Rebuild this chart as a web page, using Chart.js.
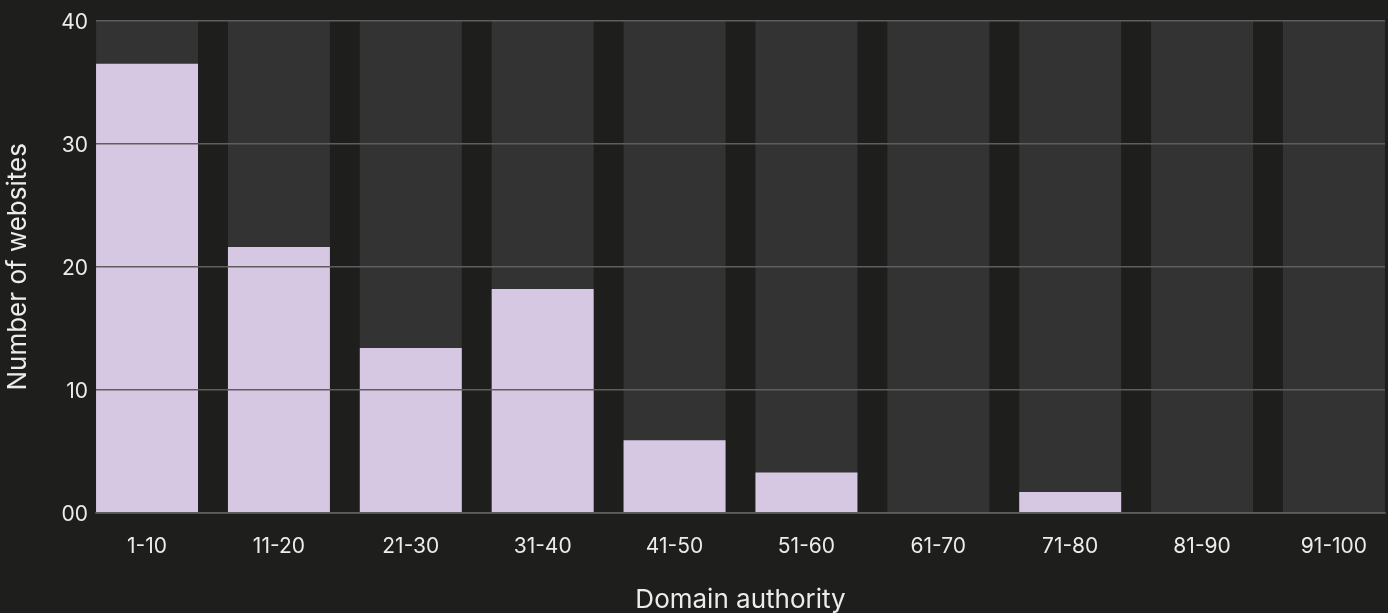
<!DOCTYPE html>
<html>
<head>
<meta charset="utf-8">
<script src="https://cdn.jsdelivr.net/npm/chart.js@4/dist/chart.umd.min.js"></script>
<style>
  html, body { margin: 0; padding: 0; background: #1e1e1d; }
  #wrap { width: 1388px; height: 613px; }
</style>
</head>
<body>
<div id="wrap"><canvas id="myChart" width="1388" height="613"></canvas></div>
<script>
const categories = ['1-10','11-20','21-30','31-40','41-50','51-60','61-70','71-80','81-90','91-100'];
const websites = [36.5, 21.6, 13.4, 18.2, 5.9, 3.3, 0, 1.7, 0, 0];
const maxValue = 40;
const yTicks = [0, 10, 20, 30, 40];

const FONT = 'Inter, "Noto Sans", sans-serif';

const canvasGraphic = () => {
    let ctx = document.getElementById('myChart').getContext('2d');
    const positions = categories.map((c, i) => i);
    const data = {
        labels: positions,
        datasets: [
          {
            label: 'Number of websites',
            data: positions.map(i => ({x: i, y: websites[i]})),
            backgroundColor: '#d6c7e3',
            order: 0
          },
          {
            label: 'Background',
            data: positions.map(i => ({x: i, y: maxValue})),
            backgroundColor: '#333333',
            order: 1
          }
        ]
      };
    let myChart = new Chart(ctx, {
        type: 'bar',
        data: data,
        options: {
            responsive: false,
            animation: false,
            grouped: false,
            categoryPercentage: 1,
            barPercentage: 0.7733,
            layout: { padding: { top: 18, right: 3, left: 0, bottom: 0 } },
            plugins: { legend: { display: false }, tooltip: { enabled: false } },
            scales: {
                x: {
                    type: 'linear',
                    offset: false,
                    min: -0.387,
                    max: 9.387,
                    grid: { display: false },
                    border: { display: true, color: '#484848', width: 2 },
                    ticks: {
                        stepSize: 1,
                        includeBounds: false,
                        autoSkip: false,
                        maxRotation: 0,
                        padding: 13,
                        color: '#ececec',
                        font: { family: FONT, size: 21 },
                        callback: v => categories[v] !== undefined && Number.isInteger(v) ? categories[v] : ''
                    },
                    title: {
                        display: true,
                        text: 'Domain authority',
                        color: '#ececec',
                        font: { family: FONT, size: 26, lineHeight: 1 },
                        padding: { top: 31, bottom: 0 }
                    },
                    afterFit: scale => { scale.height = 100; }
                },
                y: {
                    min: 0,
                    max: maxValue,
                    grid: { color: '#5e5e5e', lineWidth: 1.5, drawTicks: false, z: 1 },
                    border: { display: false },
                    afterBuildTicks: scale => { scale.ticks = yTicks.map(v => ({value: v})); },
                    ticks: {
                        padding: 8,
                        labelOffset: 2,
                        color: '#ececec',
                        font: { family: FONT, size: 21 },
                        callback: v => String(v).padStart(2, '0')
                    },
                    title: {
                        display: true,
                        text: 'Number of websites',
                        color: '#ececec',
                        font: { family: FONT, size: 26, lineHeight: 1 },
                        padding: { top: 5, bottom: 0 }
                    },
                    afterFit: scale => { scale.width = 96; }
                }
            }
        }
    });
};

canvasGraphic();
</script>
</body>
</html>
